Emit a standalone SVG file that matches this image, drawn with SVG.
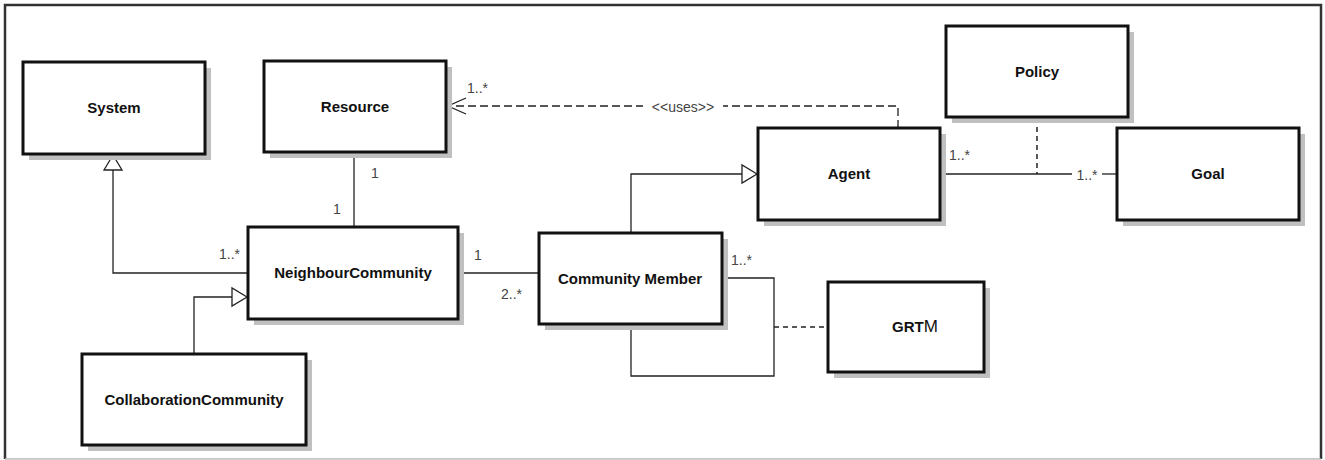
<svg xmlns="http://www.w3.org/2000/svg" width="1325" height="460" viewBox="0 0 1325 460">
<style>
.shadow{fill:#c0c0c0;stroke:none}
.box{fill:#fff;stroke:#111;stroke-width:3}
.name{font-family:"Liberation Sans",Arial,sans-serif;font-size:15px;font-weight:bold;fill:#111;text-anchor:middle}
.lbl{font-family:"Liberation Sans",Arial,sans-serif;font-size:14px;fill:#444}
.ln{fill:none;stroke:#222;stroke-width:1.3}
.dash{fill:none;stroke:#222;stroke-width:1.3;stroke-dasharray:8,4}
.dot{fill:none;stroke:#222;stroke-width:1.5;stroke-dasharray:5,4}
.tri{fill:#fff;stroke:#222;stroke-width:1.3}
</style>
<rect x="0" y="0" width="1325" height="460" fill="#fff"/>
<path d="M5,459 V5 H1321 V459" fill="none" stroke="#333" stroke-width="2.5"/>
<line x1="5" y1="459" x2="1321" y2="459" stroke="#bbb" stroke-width="1.5"/>

<g id="connectors">
  <!-- System generalization -->
  <path class="ln" d="M248,273 H113 V170"/>
  <polygon class="tri" points="113,155 104,170 122,170"/>
  <!-- Resource - Neighbour -->
  <line class="ln" x1="354" y1="152" x2="354" y2="227"/>
  <!-- Collaboration generalization -->
  <path class="ln" d="M194,354 V297 H232"/>
  <polygon class="tri" points="247,297 232,288 232,306"/>
  <!-- Neighbour - Community Member -->
  <line class="ln" x1="458" y1="273" x2="539" y2="273"/>
  <!-- CM generalization to Agent -->
  <path class="ln" d="M631,233 V174 H742"/>
  <polygon class="tri" points="757,174 742,165 742,183"/>
  <!-- uses dependency -->
  <path class="dash" d="M898,128 V106 H448"/>
  <path class="ln" d="M466,98 L448,106 L466,114"/>
  <rect x="643" y="96" width="80" height="20" fill="#fff"/>
  <text class="lbl" x="683" y="112" text-anchor="middle">&lt;&lt;uses&gt;&gt;</text>
  <!-- Agent - Goal -->
  <line class="ln" x1="940" y1="174" x2="1072" y2="174"/>
  <line class="ln" x1="1102" y1="174" x2="1117" y2="174"/>
  <line class="dot" x1="1037" y1="118" x2="1037" y2="174"/>
  <!-- CM self association -->
  <path class="ln" d="M722,278 H774 V376 H631 V324"/>
  <line class="dot" x1="774" y1="327" x2="828" y2="327"/>
  <!-- multiplicities -->
  <text class="lbl" x="371" y="178">1</text>
  <text class="lbl" x="333" y="214">1</text>
  <text class="lbl" x="219" y="259">1..*</text>
  <text class="lbl" x="474" y="260">1</text>
  <text class="lbl" x="501" y="299">2..*</text>
  <text class="lbl" x="731" y="265">1..*</text>
  <text class="lbl" x="467" y="93">1..*</text>
  <text class="lbl" x="949" y="160">1..*</text>
  <text class="lbl" x="1087" y="180" text-anchor="middle">1..*</text>
</g>

<g id="system">
  <rect class="shadow" x="29" y="68" width="182" height="92"/>
  <rect class="box" x="23" y="62" width="182" height="92"/>
  <text class="name" x="114" y="113">System</text>
</g>
<g id="resource">
  <rect class="shadow" x="270" y="67" width="182" height="91"/>
  <rect class="box" x="264" y="61" width="182" height="91"/>
  <text class="name" x="355" y="112">Resource</text>
</g>
<g id="neighbourcommunity">
  <rect class="shadow" x="254" y="233" width="210" height="92"/>
  <rect class="box" x="248" y="227" width="210" height="92"/>
  <text class="name" x="353" y="278">NeighbourCommunity</text>
</g>
<g id="collaborationcommunity">
  <rect class="shadow" x="88" y="360" width="224" height="91"/>
  <rect class="box" x="82" y="354" width="224" height="91"/>
  <text class="name" x="194" y="405">CollaborationCommunity</text>
</g>
<g id="communitymember">
  <rect class="shadow" x="545" y="239" width="183" height="91"/>
  <rect class="box" x="539" y="233" width="183" height="91"/>
  <text class="name" x="630" y="284">Community Member</text>
</g>
<g id="agent">
  <rect class="shadow" x="764" y="134" width="182" height="92"/>
  <rect class="box" x="758" y="128" width="182" height="92"/>
  <text class="name" x="849" y="179">Agent</text>
</g>
<g id="policy">
  <rect class="shadow" x="952" y="32" width="182" height="91"/>
  <rect class="box" x="946" y="26" width="182" height="91"/>
  <text class="name" x="1037" y="77">Policy</text>
</g>
<g id="goal">
  <rect class="shadow" x="1123" y="134" width="182" height="92"/>
  <rect class="box" x="1117" y="128" width="182" height="92"/>
  <text class="name" x="1208" y="179">Goal</text>
</g>
<g id="grtm">
  <rect class="shadow" x="834" y="288" width="156" height="90"/>
  <rect class="box" x="828" y="282" width="156" height="90"/>
  <text class="name" x="915" y="332">GRT<tspan font-weight="normal" font-size="17px">M</tspan></text>
</g>
</svg>
